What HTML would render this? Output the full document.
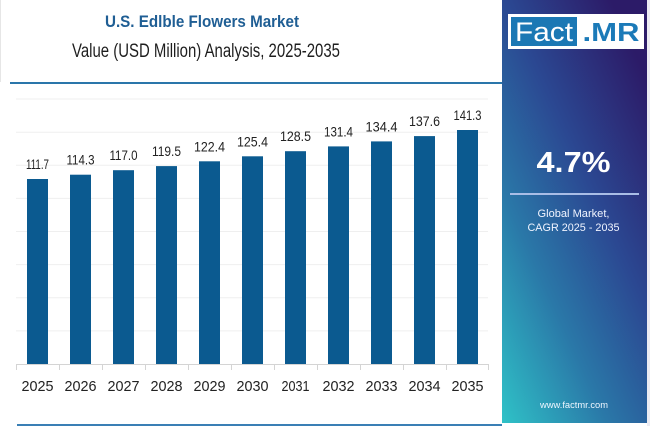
<!DOCTYPE html>
<html><head><meta charset="utf-8"><style>
html,body{margin:0;padding:0;background:#fff;}
svg{display:block;}
</style></head><body>
<svg width="650" height="426" viewBox="0 0 650 426" xmlns="http://www.w3.org/2000/svg">
<defs>
<linearGradient id="pg" x1="0" y1="1" x2="0.75" y2="0">
<stop offset="0" stop-color="#2fc2c7"/>
<stop offset="0.35" stop-color="#2a78a8"/>
<stop offset="0.65" stop-color="#2b4892"/>
<stop offset="1" stop-color="#2c1b68"/>
</linearGradient>
</defs>
<rect x="0" y="0" width="650" height="426" fill="#ffffff"/>
<line x1="0.5" y1="0" x2="0.5" y2="82" stroke="#e6e6e6" stroke-width="1"/>
<!-- title -->
<text x="202" y="27" text-anchor="middle" font-family="Liberation Sans, sans-serif" font-weight="bold" font-size="17" fill="#1f5e94" textLength="194" lengthAdjust="spacingAndGlyphs">U.S. Edlble Flowers Market</text>
<text x="206" y="57" text-anchor="middle" font-family="Liberation Sans, sans-serif" font-size="19" fill="#1e1e1e" textLength="268" lengthAdjust="spacingAndGlyphs">Value (USD Million) Analysis, 2025-2035</text>
<line x1="10" y1="83" x2="502" y2="83" stroke="#2a76aa" stroke-width="2"/>
<!-- gridlines -->
<g stroke="#efefef" stroke-width="1">
<line x1="16" y1="99" x2="488" y2="99"/>
<line x1="16" y1="132.2" x2="488" y2="132.2"/>
<line x1="16" y1="165.3" x2="488" y2="165.3"/>
<line x1="16" y1="198.4" x2="488" y2="198.4"/>
<line x1="16" y1="231.5" x2="488" y2="231.5"/>
<line x1="16" y1="264.6" x2="488" y2="264.6"/>
<line x1="16" y1="297.8" x2="488" y2="297.8"/>
<line x1="16" y1="330.9" x2="488" y2="330.9"/>
</g>
<!-- bars -->
<g fill="#0b5a90">
<rect x="27" y="179.0" width="21" height="185.0"/>
<rect x="70" y="174.7" width="21" height="189.3"/>
<rect x="113" y="170.2" width="21" height="193.8"/>
<rect x="156" y="166.1" width="21" height="197.9"/>
<rect x="199" y="161.3" width="21" height="202.7"/>
<rect x="242" y="156.3" width="21" height="207.7"/>
<rect x="285" y="151.2" width="21" height="212.8"/>
<rect x="328" y="146.4" width="21" height="217.6"/>
<rect x="371" y="141.4" width="21" height="222.6"/>
<rect x="414" y="136.1" width="21" height="227.9"/>
<rect x="457" y="130.0" width="21" height="234.0"/>
</g>
<!-- value labels -->
<g font-family="Liberation Sans, sans-serif" font-size="14" fill="#222" text-anchor="middle">
<text x="37.5" y="169.0" textLength="23" lengthAdjust="spacingAndGlyphs">111.7</text>
<text x="80.5" y="164.7" textLength="28" lengthAdjust="spacingAndGlyphs">114.3</text>
<text x="123.5" y="160.2" textLength="28" lengthAdjust="spacingAndGlyphs">117.0</text>
<text x="166.5" y="156.1" textLength="29" lengthAdjust="spacingAndGlyphs">119.5</text>
<text x="209.5" y="151.3" textLength="31" lengthAdjust="spacingAndGlyphs">122.4</text>
<text x="252.5" y="146.3" textLength="31" lengthAdjust="spacingAndGlyphs">125.4</text>
<text x="295.5" y="141.2" textLength="31" lengthAdjust="spacingAndGlyphs">128.5</text>
<text x="338.5" y="136.4" textLength="29" lengthAdjust="spacingAndGlyphs">131.4</text>
<text x="381.5" y="131.4" textLength="32" lengthAdjust="spacingAndGlyphs">134.4</text>
<text x="424.5" y="126.1" textLength="31" lengthAdjust="spacingAndGlyphs">137.6</text>
<text x="467.5" y="120.0" textLength="28" lengthAdjust="spacingAndGlyphs">141.3</text>
</g>
<!-- axis -->
<line x1="16" y1="364.5" x2="488" y2="364.5" stroke="#d4d4d4" stroke-width="1"/>
<g stroke="#d4d4d4" stroke-width="1">
<line x1="16.5" y1="364" x2="16.5" y2="370"/>
<line x1="59.5" y1="364" x2="59.5" y2="370"/>
<line x1="102.5" y1="364" x2="102.5" y2="370"/>
<line x1="145.5" y1="364" x2="145.5" y2="370"/>
<line x1="188.5" y1="364" x2="188.5" y2="370"/>
<line x1="231.5" y1="364" x2="231.5" y2="370"/>
<line x1="274.5" y1="364" x2="274.5" y2="370"/>
<line x1="317.5" y1="364" x2="317.5" y2="370"/>
<line x1="360.5" y1="364" x2="360.5" y2="370"/>
<line x1="403.5" y1="364" x2="403.5" y2="370"/>
<line x1="446.5" y1="364" x2="446.5" y2="370"/>
<line x1="488.5" y1="364" x2="488.5" y2="370"/>
</g>
<g font-family="Liberation Sans, sans-serif" font-size="15" fill="#222" text-anchor="middle">
<text x="37.5" y="391" textLength="32" lengthAdjust="spacingAndGlyphs">2025</text>
<text x="80.5" y="391" textLength="32" lengthAdjust="spacingAndGlyphs">2026</text>
<text x="123.5" y="391" textLength="32" lengthAdjust="spacingAndGlyphs">2027</text>
<text x="166.5" y="391" textLength="32" lengthAdjust="spacingAndGlyphs">2028</text>
<text x="209.5" y="391" textLength="32" lengthAdjust="spacingAndGlyphs">2029</text>
<text x="252.5" y="391" textLength="32" lengthAdjust="spacingAndGlyphs">2030</text>
<text x="295.5" y="391" textLength="28" lengthAdjust="spacingAndGlyphs">2031</text>
<text x="338.5" y="391" textLength="32" lengthAdjust="spacingAndGlyphs">2032</text>
<text x="381.5" y="391" textLength="32" lengthAdjust="spacingAndGlyphs">2033</text>
<text x="424.5" y="391" textLength="32" lengthAdjust="spacingAndGlyphs">2034</text>
<text x="467.5" y="391" textLength="32" lengthAdjust="spacingAndGlyphs">2035</text>
</g>
<line x1="17" y1="425" x2="502" y2="425" stroke="#3a7fb5" stroke-width="2"/>
<!-- right panel -->
<rect x="647" y="0" width="3" height="426" fill="#ecebf2"/>
<rect x="502" y="0" width="145" height="423" fill="url(#pg)"/>
<!-- logo -->
<rect x="508" y="14" width="136" height="35" fill="#ffffff"/>
<rect x="511" y="17" width="66" height="29" fill="#1b78b4"/>
<text x="544" y="41" text-anchor="middle" font-family="Liberation Sans, sans-serif" font-size="27" fill="#ffffff" textLength="58" lengthAdjust="spacingAndGlyphs">Fact</text>
<text x="611" y="41" text-anchor="middle" font-family="Liberation Sans, sans-serif" font-weight="bold" font-size="26" fill="#1b7ab8" textLength="57" lengthAdjust="spacingAndGlyphs">.MR</text>
<!-- CAGR -->
<text x="573.5" y="172" text-anchor="middle" font-family="Liberation Sans, sans-serif" font-weight="bold" font-size="29" fill="#ffffff" textLength="74" lengthAdjust="spacingAndGlyphs">4.7%</text>
<line x1="510" y1="194" x2="639" y2="194" stroke="#a9bde6" stroke-width="2"/>
<text x="573.5" y="217" text-anchor="middle" font-family="Liberation Sans, sans-serif" font-size="11" fill="#f0f4ff" textLength="72" lengthAdjust="spacingAndGlyphs">Global Market,</text>
<text x="573.5" y="231" text-anchor="middle" font-family="Liberation Sans, sans-serif" font-size="11" fill="#f0f4ff" textLength="92" lengthAdjust="spacingAndGlyphs">CAGR 2025 - 2035</text>
<text x="574" y="408" text-anchor="middle" font-family="Liberation Sans, sans-serif" font-size="9" fill="#eef6ff" textLength="68" lengthAdjust="spacingAndGlyphs">www.factmr.com</text>
</svg>
</body></html>
